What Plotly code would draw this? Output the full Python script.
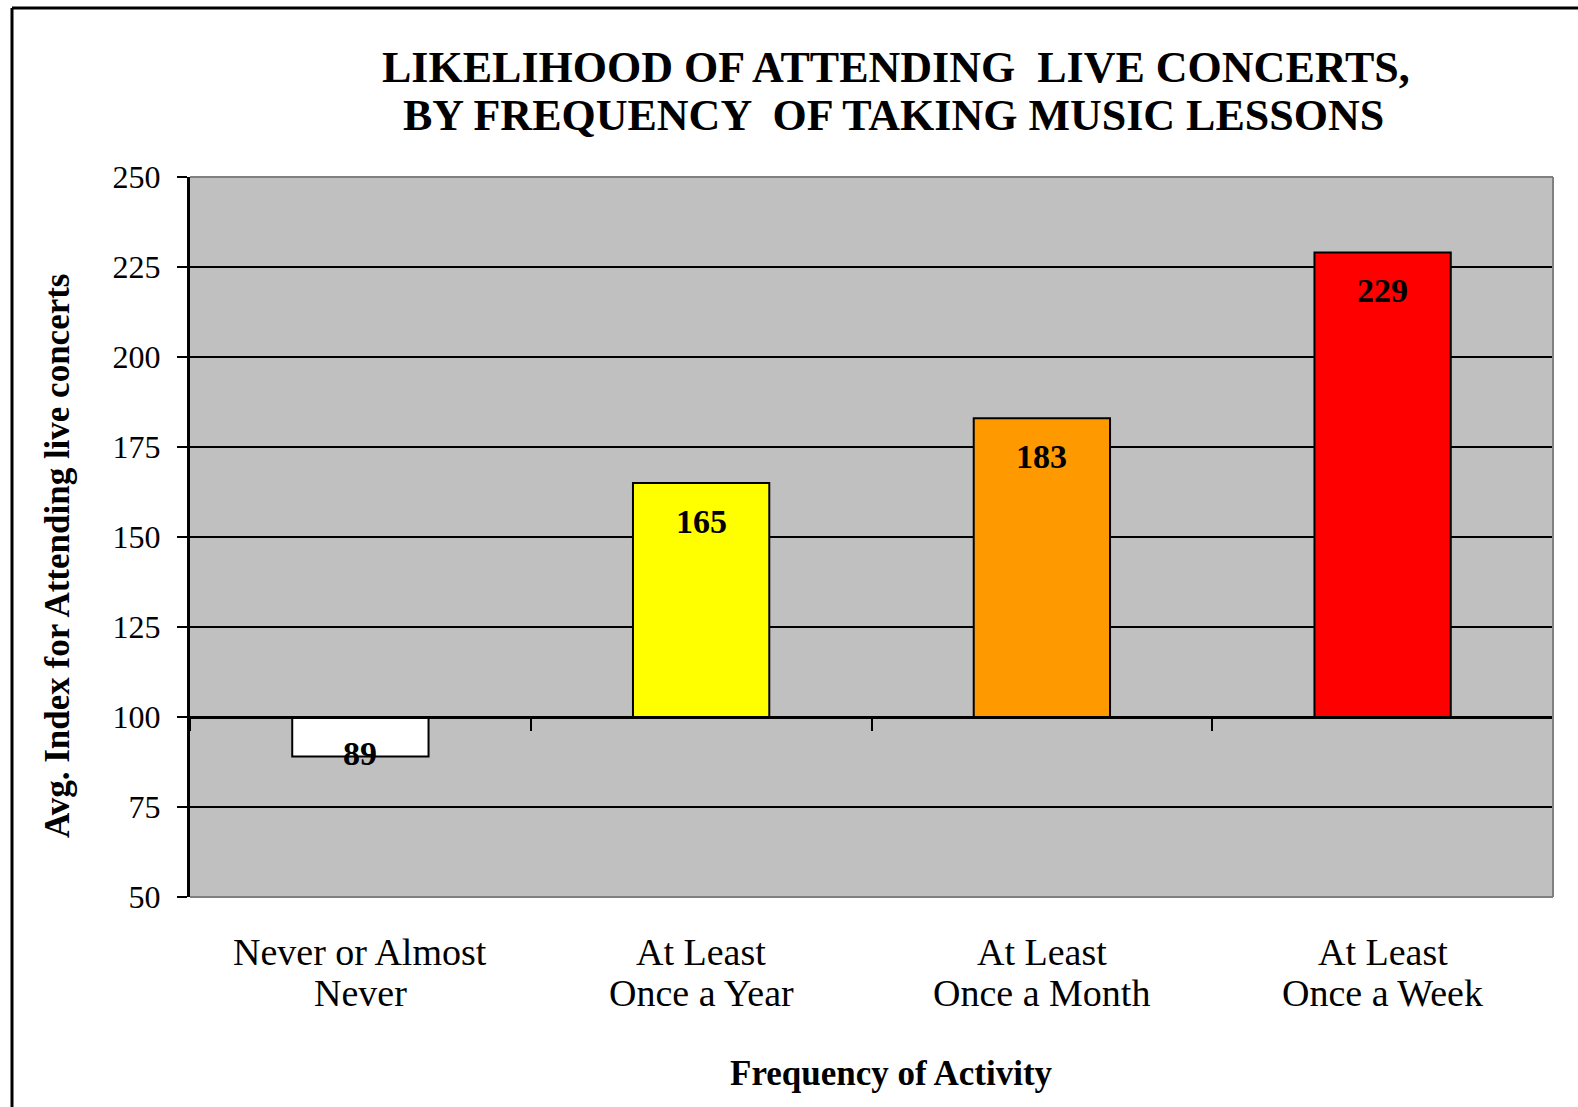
import plotly.graph_objects as go

# Chart data
categories = ["Never or Almost<br>Never", "At Least<br>Once a Year",
              "At Least<br>Once a Month", "At Least<br>Once a Week"]
values = [89, 165, 183, 229]
bar_colors = ["#FFFFFF", "#FFFF00", "#FF9900", "#FF0000"]
baseline = 100
y_ticks = [50, 75, 100, 125, 150, 175, 200, 225, 250]

title_lines = ["LIKELIHOOD OF ATTENDING  LIVE CONCERTS,",
               "BY FREQUENCY  OF TAKING MUSIC LESSONS"]
x_title = "Frequency of Activity"
y_title = "Avg. Index for Attending live concerts"

FONT = "Liberation Serif"
W, H = 1578, 1107
ML, MR, MT, MB = 190, 25, 177, 210
PW, PH = W - ML - MR, H - MT - MB
y_min, y_max = y_ticks[0], y_ticks[-1]


def xp(px):
    return (px - ML) / PW


def yp(py):
    return (H - MB - py) / PH


fig = go.Figure()

fig.add_trace(go.Bar(
    x=categories,
    y=[v - baseline for v in values],
    base=baseline,
    width=0.4,
    marker=dict(color=bar_colors, line=dict(color="black", width=2)),
    hoverinfo="skip",
    showlegend=False,
))

# invisible trace that carries the category axis drawn at the baseline
fig.add_trace(go.Scatter(
    x=categories, y=[baseline] * len(categories),
    xaxis="x2", mode="markers", marker=dict(opacity=0),
    hoverinfo="skip", showlegend=False,
))

# value labels inside the bar ends
for c, v in zip(categories, values):
    fig.add_annotation(
        x=c, y=v, xref="x", yref="y",
        text=f"<b>{v}</b>", showarrow=False,
        yanchor="middle",
        yshift=-38 if v >= baseline else 3,
        font=dict(family=FONT, size=34, color="black"),
    )

# category labels, one annotation per text line for tight line spacing
for c in categories:
    for i, line in enumerate(c.split("<br>")):
        fig.add_annotation(
            x=c, y=yp(952 + 41 * i), xref="x", yref="paper",
            text=line, showarrow=False,
            xanchor="center", yanchor="middle",
            font=dict(family=FONT, size=38, color="black"),
        )

# title, one annotation per line
for (line, cx, cy) in zip(title_lines, [896, 893], [67, 115]):
    fig.add_annotation(
        x=xp(cx), y=yp(cy), xref="paper", yref="paper",
        text=f"<b>{line}</b>", showarrow=False,
        xanchor="center", yanchor="middle",
        font=dict(family=FONT, size=44, color="black"),
    )

# axis titles
fig.add_annotation(
    x=xp(891), y=yp(1073), xref="paper", yref="paper",
    text=f"<b>{x_title}</b>", showarrow=False,
    xanchor="center", yanchor="middle",
    font=dict(family=FONT, size=35, color="black"),
)
fig.add_annotation(
    x=xp(57), y=yp(556), xref="paper", yref="paper",
    text=f"<b>{y_title}</b>", showarrow=False, textangle=-90,
    xanchor="center", yanchor="middle",
    font=dict(family=FONT, size=35, color="black"),
)

# plot-area border (top, right, bottom) and outer chart frame
border = dict(color="#808080", width=2)
fig.add_shape(type="line", xref="paper", yref="paper", x0=0, x1=1, y0=1, y1=1, line=border, layer="above")
fig.add_shape(type="line", xref="paper", yref="paper", x0=1, x1=1, y0=0, y1=1, line=border, layer="above")
fig.add_shape(type="line", xref="paper", yref="paper", x0=0, x1=1, y0=0, y1=0, line=border, layer="above")
frame = dict(color="black", width=3)
fig.add_shape(type="line", xref="paper", yref="paper",
              x0=xp(12), x1=xp(W + 20), y0=yp(8), y1=yp(8), line=frame)
fig.add_shape(type="line", xref="paper", yref="paper",
              x0=xp(12), x1=xp(12), y0=yp(8), y1=yp(H + 20), line=frame)

fig.update_layout(
    width=W, height=H,
    margin=dict(l=ML, r=MR, t=MT, b=MB, pad=0),
    paper_bgcolor="white",
    plot_bgcolor="#C0C0C0",
    font=dict(family=FONT, color="black"),
    bargap=0.6,
    xaxis=dict(
        type="category", range=[-0.5, len(categories) - 0.5],
        showgrid=False, showline=False, ticks="", zeroline=False,
        showticklabels=False,
    ),
    xaxis2=dict(
        type="category", overlaying="x", anchor="free",
        position=(baseline - y_min) / (y_max - y_min),
        range=[-0.5, len(categories) - 0.5],
        showgrid=False, showline=True, linecolor="black", linewidth=3,
        ticks="outside", tickson="boundaries", ticklen=12, tickwidth=2,
        tickcolor="black", showticklabels=False, zeroline=False,
    ),
    yaxis=dict(
        range=[y_min, y_max], tickvals=y_ticks,
        showgrid=True, gridcolor="black", gridwidth=2,
        showline=True, linecolor="black", linewidth=3,
        ticks="outside", ticklen=10, tickwidth=2, tickcolor="black",
        tickfont=dict(family=FONT, size=32, color="black"),
        ticklabelstandoff=10, zeroline=False,
    ),
)

fig.write_html("out.html")
